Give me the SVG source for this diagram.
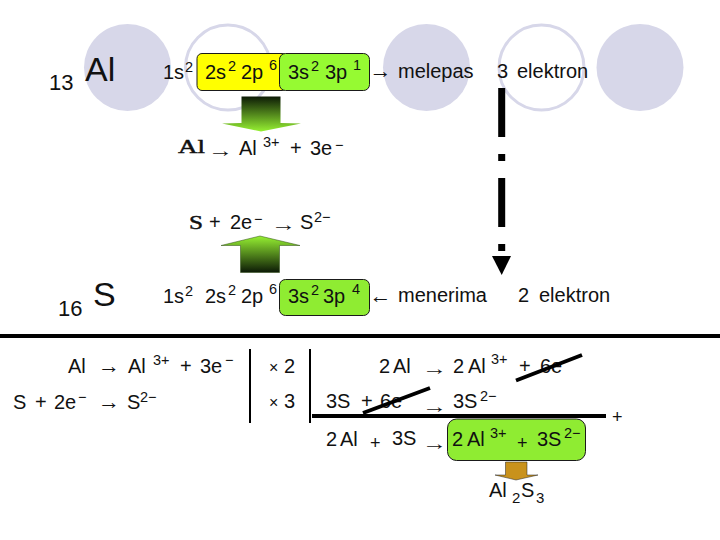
<svg xmlns="http://www.w3.org/2000/svg" width="720" height="540" viewBox="0 0 720 540">
<style>
text{font-family:"Liberation Sans",Arial,sans-serif;font-size:20px;fill:#111}
.sup{font-size:14.5px}
.big{font-size:34px}
.num{font-size:22px}
.eq{font-size:18px}
.x{font-size:16px}
.ser{font-family:"Liberation Serif","Times New Roman",serif;font-size:19px;stroke:#111;stroke-width:.45}
.ar{font-size:22px}
.thin{font-size:19px}
.fill{fill:#d7d7e9}
.ring{fill:none;stroke:#d7d7e9;stroke-width:3}
.box{stroke:#1a1a1a;stroke-width:1}
.green{fill:#96fa32}
.lime{fill:#8fec32}
.rule{stroke:#000;fill:none}
</style>
<defs>
<linearGradient id="gd" x1="0" y1="0" x2="0" y2="1"><stop offset="0" stop-color="#0c1a06"/><stop offset="1" stop-color="#96f032"/></linearGradient>
<linearGradient id="gu" x1="0" y1="1" x2="0" y2="0"><stop offset="0" stop-color="#0c1a06"/><stop offset="1" stop-color="#96f032"/></linearGradient>
</defs>
<g id="bg-circles">
<circle class="fill" cx="127.5" cy="67.5" r="43.5"/>
<circle class="ring" cx="228" cy="67.5" r="42.5"/>
<circle class="fill" cx="426.5" cy="67.5" r="43.5"/>
<circle class="ring" cx="541.5" cy="67.5" r="42.5"/>
<circle class="fill" cx="640" cy="67.5" r="43.5"/>
</g>
<g id="al-config">
<text class="num" x="49" y="90">13</text>
<text class="big" x="85" y="81">Al</text>
<text x="163" y="79">1s</text><text class="sup" x="185" y="72">2</text>
<rect class="box" x="197" y="53.5" width="90" height="37" rx="5" fill="#ffff00"/>
<rect class="box green" x="279.5" y="53.5" width="90" height="37" rx="6"/>
<text x="205" y="79">2s</text><text class="sup" x="228" y="71">2</text>
<text x="241" y="79">2p</text><text class="sup" x="269" y="70">6</text>
<text x="288" y="79">3s</text><text class="sup" x="311" y="71">2</text>
<text x="325" y="79">3p</text><text class="sup" x="353" y="70">1</text>
<text class="ar" x="369.5" y="78">→</text>
<text x="398" y="78">melepas</text>
<text x="497" y="78">3</text>
<text x="517" y="78">elektron</text>
</g>
<g id="al-ion">
<text class="ser" x="178" y="153" textLength="27" lengthAdjust="spacingAndGlyphs">Al</text>
<text class="thin" x="208" y="157" textLength="25" lengthAdjust="spacingAndGlyphs">→</text>
<text x="239" y="155">Al</text><text class="sup" x="263" y="147">3+</text>
<text x="290" y="155">+</text><text x="310" y="155">3e</text><text class="sup" x="335" y="150">−</text>
</g>
<g id="s-ion">
<text class="ser" x="189" y="229" textLength="14" lengthAdjust="spacingAndGlyphs">S</text>
<text x="209" y="229">+</text><text x="230" y="229">2e</text><text class="sup" x="254" y="224">−</text>
<text class="thin" x="271" y="230.5" textLength="25" lengthAdjust="spacingAndGlyphs">→</text>
<text x="300" y="229">S</text><text class="sup" x="314" y="222">2−</text>
</g>
<g id="s-config">
<text class="num" x="58" y="316">16</text>
<text class="big" x="93" y="306">S</text>
<text x="163" y="303">1s</text><text class="sup" x="185" y="296">2</text>
<text x="205" y="303">2s</text><text class="sup" x="228" y="295">2</text>
<text x="241" y="303">2p</text><text class="sup" x="269" y="294">6</text>
<rect class="box lime" x="279.5" y="279.5" width="90" height="36" rx="6"/>
<text x="288" y="303">3s</text><text class="sup" x="311" y="295">2</text>
<text x="323" y="303">3p</text><text class="sup" x="352" y="294">4</text>
<text class="ar" x="369.5" y="303">←</text>
<text x="398" y="302">menerima</text>
<text x="518" y="302">2</text>
<text x="539" y="302">elektron</text>
</g>
<g id="half-reactions">
<text x="68" y="373">Al</text>
<text class="ar" x="98" y="373">→</text>
<text x="128" y="373">Al</text><text class="sup" x="153" y="365">3+</text>
<text x="180" y="373">+</text><text x="200" y="373">3e</text><text class="sup" x="225" y="365">−</text>
<text x="13" y="409">S</text><text x="35" y="409">+</text><text x="54" y="409">2e</text><text class="sup" x="78" y="402">−</text>
<text class="ar" x="98" y="409">→</text>
<text x="127" y="409">S</text><text class="sup" x="140" y="402">2−</text>
<text class="x" x="269" y="373">×</text><text x="284" y="373">2</text>
<text class="x" x="269" y="408">×</text><text x="284" y="408">3</text>
</g>
<g id="sum-reactions">
<text x="379" y="373">2</text><text x="393" y="373">Al</text>
<text class="thin" x="422" y="375" textLength="25" lengthAdjust="spacingAndGlyphs">→</text>
<text x="453" y="373">2</text><text x="468" y="373">Al</text><text class="sup" x="491" y="364">3+</text>
<text x="519" y="373">+</text><text x="540" y="373">6e</text>
<text x="326" y="408">3S</text><text x="361" y="408">+</text><text x="380" y="408">6e</text>
<text class="thin" x="422" y="413" textLength="25" lengthAdjust="spacingAndGlyphs">→</text>
<text x="453" y="408">3S</text><text class="sup" x="480" y="401">2−</text>
<text x="326" y="446">2</text><text x="340" y="446">Al</text>
<text x="370" y="449" class="eq">+</text><text x="392" y="445">3S</text>
<text class="thin" x="422" y="450" textLength="25" lengthAdjust="spacingAndGlyphs">→</text>
<rect class="box lime" x="447.5" y="419" width="138" height="41.5" rx="9"/>
<text x="452" y="446">2</text><text x="467" y="446">Al</text><text class="sup" x="490" y="438">3+</text>
<text x="517" y="449" class="eq">+</text><text x="537" y="446">3S</text><text class="sup" x="564" y="438">2−</text>
<text x="612" y="423" class="eq">+</text>
<text x="489" y="497">Al</text><text x="512" y="503" style="font-size:15px">2</text><text x="521" y="497">S</text><text x="536" y="503" style="font-size:15px">3</text>
</g>
<g id="connectors">
<path d="M241.5 96.5H280.5V123L301 123.5L261 131.5L222 123.5L241.5 123Z" fill="url(#gd)"/>
<path d="M240.5 272.5H279.5V245.5H300L260 236L221 245.5H240.5Z" fill="url(#gu)" stroke="#2a4a10" stroke-width=".5"/>
<path class="rule" stroke-width="7" d="M501.7 88V137M501.7 154V161M501.7 178V227M501.7 244V251"/>
<path d="M492 256H511L501.7 275Z" fill="#000"/>
<path d="M505.5 462H527V475H538L516 480L495 475H505.5Z" fill="#c9921c" stroke="#222" stroke-width=".5"/>
</g>
<g id="rules">
<path class="rule" stroke-width="4" d="M0 336H720"/>
<path class="rule" stroke-width="2" d="M250 349V423M310 349V423"/>
<path class="rule" stroke-width="4" d="M312 416H606"/>
<path class="rule" stroke-width="4" d="M516 380.5L582 355M363 413L430 388"/>
</g>
</svg>
